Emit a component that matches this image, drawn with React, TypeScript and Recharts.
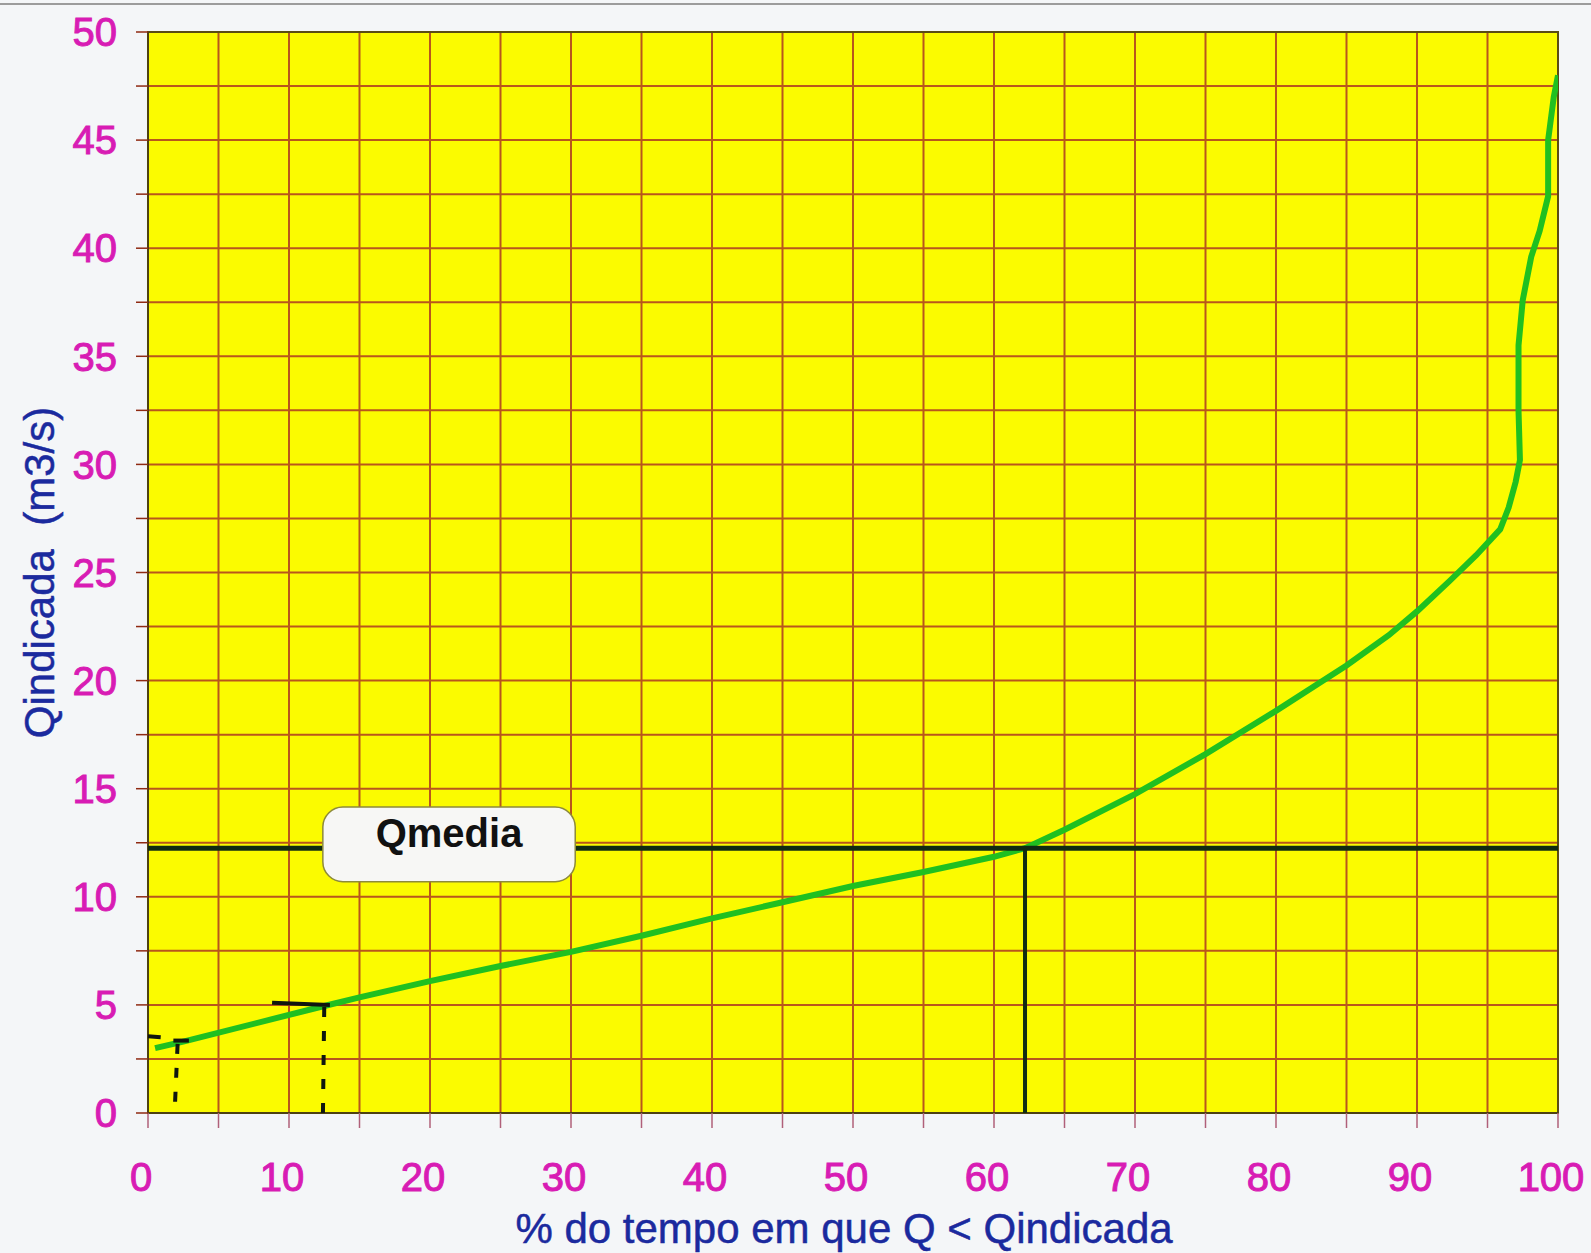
import { LineChart, Line, XAxis, YAxis, CartesianGrid, ReferenceLine, ReferenceArea } from 'recharts'

// % of time Q < Qindicada  vs  Qindicada (m3/s)
const pctTime = [0.5, 2.5, 12.5, 15, 20, 25, 30, 35, 40, 45, 50, 55, 60, 62.2, 65, 70, 75, 80, 85, 88, 90, 92.3, 94.2, 95.9, 96.5, 97.0, 97.3, 97.2, 97.2, 97.5, 98.1, 98.7, 99.3, 99.3, 99.7, 100]
const qIndicada = [3.0, 3.3, 4.95, 5.35, 6.1, 6.8, 7.45, 8.2, 9.0, 9.75, 10.5, 11.15, 11.85, 12.25, 13.1, 14.75, 16.6, 18.6, 20.7, 22.1, 23.2, 24.6, 25.8, 27.0, 28.0, 29.2, 30.2, 32.5, 35.5, 37.6, 39.6, 40.8, 42.4, 45, 47, 48]

const xTicks = [0, 5, 10, 15, 20, 25, 30, 35, 40, 45, 50, 55, 60, 65, 70, 75, 80, 85, 90, 95, 100]
const yTicks = [0, 2.5, 5, 7.5, 10, 12.5, 15, 17.5, 20, 22.5, 25, 27.5, 30, 32.5, 35, 37.5, 40, 42.5, 45, 47.5, 50]

const qMedia = 12.25
const qMediaPct = 62.2
// label box corners (data units)
const boxX = [12.4, 30.3]
const boxY = [10.7, 14.15]

// hand drawn pen marks: [x1, y1, x2, y2, dashed]
const penMarks: [number, number, number, number, boolean][] = [
  [0, 3.55, 0.9, 3.5, false],
  [1.8, 3.35, 2.9, 3.35, false],
  [2.1, 3.2, 1.9, 0.2, true],
  [8.8, 5.1, 12.9, 5.0, false],
  [12.5, 4.9, 12.4, -0.4, true],
]

const data = pctTime.map((x, i) => ({ x, y: qIndicada[i] }))

const FONT = '"Liberation Sans", Arial, Helvetica, sans-serif'
const MAGENTA = '#d81cb4'
const BLUE = '#1b2a9e'
const GRID = '#b8561c'
const DARK = '#112c12'

const YTitle = ({ viewBox }: any) => {
  const cx = viewBox.x + 54
  const cy = viewBox.y + viewBox.height / 2
  return (
    <text x={cx} y={cy} transform={`rotate(-90, ${cx}, ${cy})`} textAnchor="middle"
      fill={BLUE} stroke={BLUE} strokeWidth={0.5} fontSize={42} fontFamily={FONT} style={{ whiteSpace: 'pre' }}>
      {'Qindicada  (m3/s)'}
    </text>
  )
}

const XTitle = ({ viewBox }: any) => {
  const cx = viewBox.x + viewBox.width / 2 - 9
  return (
    <text x={cx} y={1243} textAnchor="middle" fill={BLUE} stroke={BLUE} strokeWidth={0.5} fontSize={42} fontFamily={FONT}>
      % do tempo em que Q &lt; Qindicada
    </text>
  )
}

const QmediaBox = (props: any) => {
  const { x, y, width, height } = props
  return (
    <g>
      <rect x={x} y={y} width={width} height={height} rx={20} ry={20}
        fill="#f7f7f5" stroke="#8d8a3a" strokeWidth={1.5} />
      <text x={x + width / 2} y={y + height / 2 + 3} textAnchor="middle"
        fontSize={40} fontWeight="bold" fontFamily={FONT} fill="#111">Qmedia</text>
    </g>
  )
}

export default function App() {
  return (
    <div style={{ position: 'absolute', left: 0, top: 0, width: 1591, height: 1253, background: '#f4f6f8' }}>
      <div style={{ position: 'absolute', left: 0, top: 3, width: 1591, height: 2, background: '#9c9c9c' }} />
      <LineChart width={1591} height={1253} data={data} margin={{ top: 32, right: 33, bottom: 0, left: 0 }}>
        <CartesianGrid fill="#fbfb00" stroke={GRID} strokeWidth={2} />
        <XAxis
          type="number" dataKey="x" domain={[0, 100]} ticks={xTicks} interval={0}
          allowDataOverflow height={140}
          axisLine={{ stroke: '#4e4212', strokeWidth: 2 }}
          tickLine={{ stroke: '#b0607a', strokeWidth: 1.5 }}
          tickSize={15} tickMargin={35}
          tick={{ fill: MAGENTA, stroke: MAGENTA, strokeWidth: 1, fontSize: 40, fontFamily: FONT, dx: -7 }}
          tickFormatter={(v: number) => (v % 10 === 0 ? String(v) : '')}
          label={<XTitle />}
        />
        <YAxis
          type="number" domain={[0, 50]} ticks={yTicks} interval={0}
          allowDataOverflow width={148}
          axisLine={{ stroke: '#4e4212', strokeWidth: 2 }}
          tickLine={{ stroke: '#8f2a12', strokeWidth: 1.5 }}
          tickSize={12} tickMargin={19}
          tick={{ fill: MAGENTA, stroke: MAGENTA, strokeWidth: 1, fontSize: 40, fontFamily: FONT }}
          tickFormatter={(v: number) => (v % 5 === 0 ? String(v) : '')}
          label={<YTitle />}
        />
        <ReferenceArea x1={0} x2={100} y1={0} y2={50} fill="none" stroke="#5a4c14" strokeWidth={2} />
        <Line type="linear" dataKey="y" stroke="#20c020" strokeWidth={6} dot={false} isAnimationActive={false} />
        <ReferenceLine y={qMedia} stroke={DARK} strokeWidth={5} zIndex={600} />
        <ReferenceLine segment={[{ x: qMediaPct, y: 0 }, { x: qMediaPct, y: qMedia }]} stroke={DARK} strokeWidth={4} zIndex={600} />
        {penMarks.map(([x1, y1, x2, y2, dashed], i) => (
          <ReferenceLine key={i} segment={[{ x: x1, y: y1 }, { x: x2, y: y2 }]} ifOverflow="visible" zIndex={600}
            stroke="#0f160f" strokeWidth={4} strokeDasharray={dashed ? '10 14' : undefined} />
        ))}
        <ReferenceArea x1={boxX[0]} x2={boxX[1]} y1={boxY[0]} y2={boxY[1]} shape={QmediaBox} ifOverflow="visible" zIndex={900} />
      </LineChart>
    </div>
  )
}
